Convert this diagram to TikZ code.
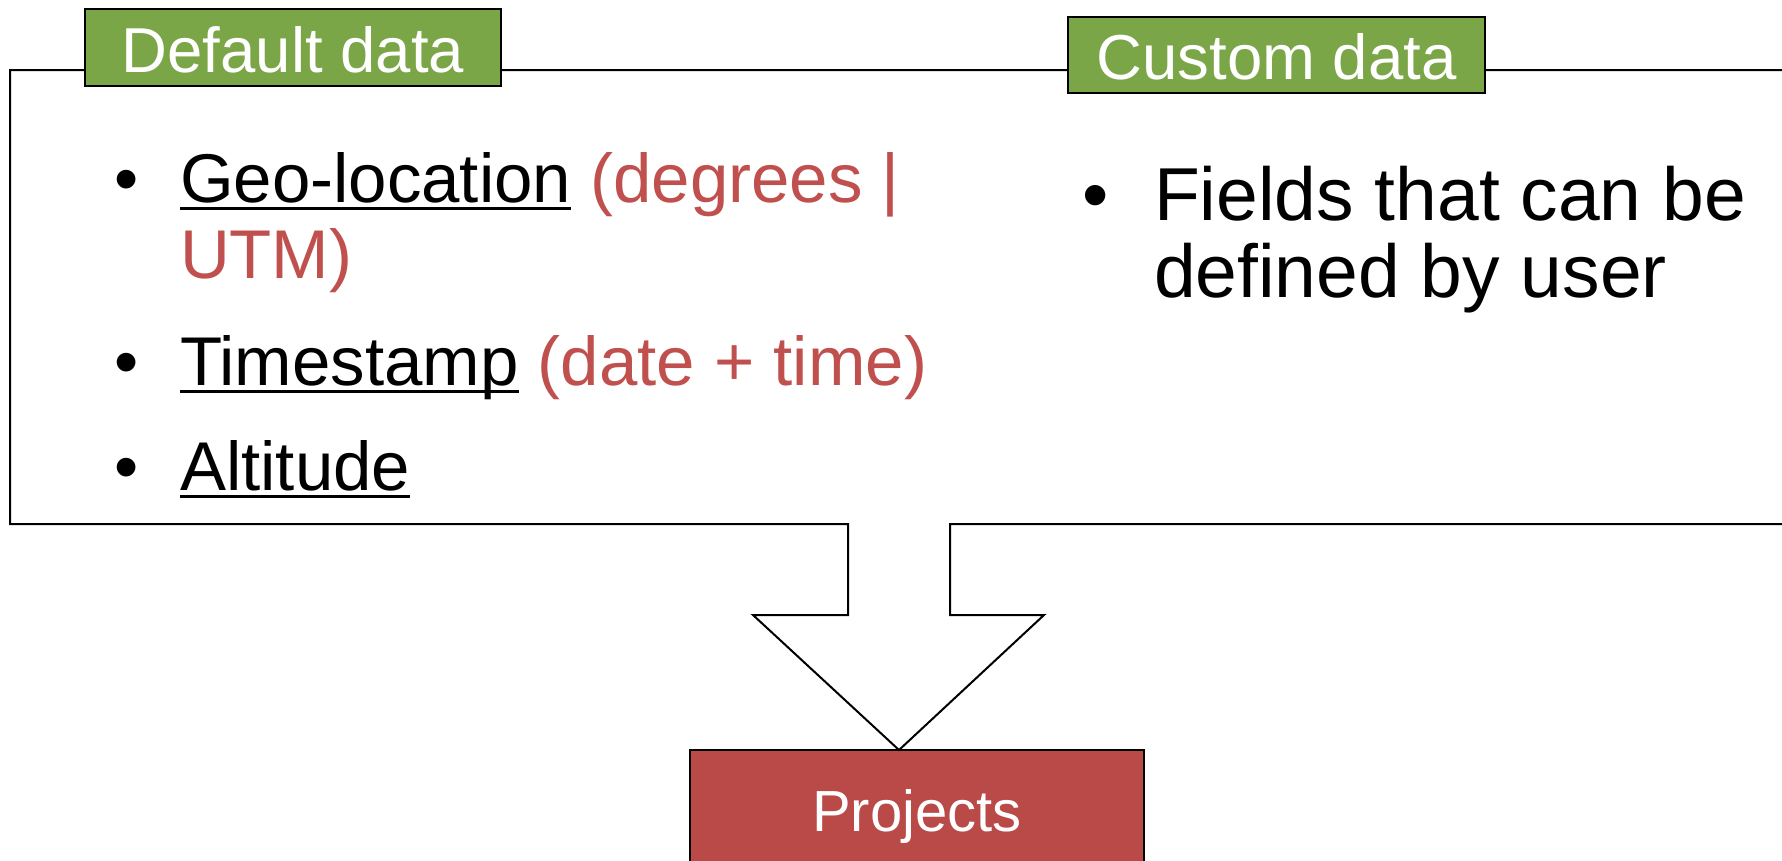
\documentclass[tikz,border=0pt]{standalone}
\usepackage{fontspec}
\setmainfont{Liberation Sans}
\definecolor{grn}{RGB}{123,166,71}
\definecolor{redbox}{RGB}{185,74,72}
\definecolor{redtxt}{RGB}{192,80,77}
\newcommand\myul[1]{\setbox0\hbox{#1}\rlap{\rule[-8pt]{\wd0}{3pt}}\box0}
\begin{document}
\begin{tikzpicture}[x=1pt,y=-1pt, line width=2pt,
  tab/.style={draw=black, fill=grn, text=white, font=\fontsize{63.5}{70}\selectfont, inner sep=0pt, text depth=0pt},
  lefttxt/.style={anchor=base west, inner sep=0pt, font=\fontsize{69}{76}\selectfont},
  righttxt/.style={anchor=base west, inner sep=0pt, font=\fontsize{75}{80}\selectfont},
  bulL/.style={anchor=base, inner sep=0pt, font=\fontsize{69}{76}\selectfont},
  bulR/.style={anchor=base, inner sep=0pt, font=\fontsize{75}{80}\selectfont}]
\useasboundingbox (0,0) rectangle (1782,860);
\clip (0,0) rectangle (1782,860);
\node[draw=black, fill=redbox, text=white, font=\fontsize{58}{64}\selectfont, inner sep=0pt,
      minimum width=454pt, minimum height=160pt, text height=2pt, text depth=0pt] (proj) at (917,830) {Projects};
\draw[line join=miter] (1800,70) -- (10,70) -- (10,524) -- (848,524) -- (848,615) -- (753,615)
  -- (899,750) -- (1044,615) -- (950,615) -- (950,524) -- (1800,524);
\node[tab, minimum width=416pt, minimum height=77pt, text height=49pt] (dd) at (293,47.5) {Default data};
\node[tab, minimum width=417pt, minimum height=76pt, text height=48pt] (cd) at (1276.5,55) {Custom data};
% left bullets
\node[bulL] (b1) at (127,202) {•};
\node[lefttxt] (t1) at (179,202) {\myul{Geo-location}\ \textcolor{redtxt}{(degrees |}};
\node[lefttxt, text=redtxt] (t1b) at (179,278) {UTM)};
\node[bulL] (b2) at (127,385) {•};
\node[lefttxt] (t2) at (179,385) {\myul{Timestamp}\ \textcolor{redtxt}{(date + time)}};
\node[bulL] (b3) at (127,490) {•};
\node[lefttxt] (t3) at (179,490) {\myul{Altitude}};
% right bullets
\node[bulR] (b4) at (1096,220) {•};
\node[righttxt] (r1) at (1153,220) {Fields that can be};
\node[righttxt] (r2) at (1153,297) {defined by user};
\end{tikzpicture}
\end{document}
